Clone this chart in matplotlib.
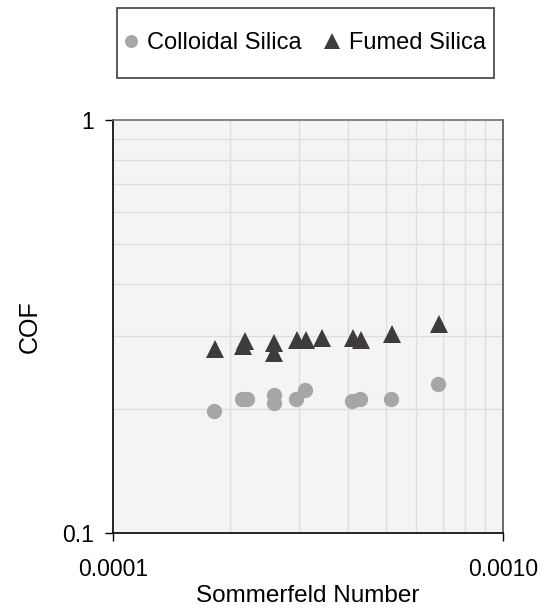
import numpy as np
import matplotlib.pyplot as plt
from matplotlib.patches import Rectangle
from matplotlib.ticker import FixedLocator, NullFormatter

plt.rcParams['font.family'] = ['Liberation Sans', 'DejaVu Sans']

# =====================================================
# Data
# =====================================================

colloidal_S = [1.82e-4, 2.14e-4, 2.20e-4, 2.58e-4, 2.58e-4, 2.94e-4,
               3.10e-4, 4.10e-4, 4.30e-4, 5.16e-4, 6.83e-4]
colloidal_cof = [0.197, 0.211, 0.211, 0.216, 0.206, 0.211,
                 0.222, 0.209, 0.211, 0.211, 0.230]

fumed_S = [1.83e-4, 2.16e-4, 2.18e-4, 2.59e-4, 2.59e-4, 2.96e-4,
           3.13e-4, 3.44e-4, 4.12e-4, 4.32e-4, 5.18e-4, 6.87e-4]
fumed_cof = [0.279, 0.283, 0.292, 0.289, 0.273, 0.293,
             0.293, 0.296, 0.296, 0.293, 0.304, 0.321]

# =====================================================
# Figure
# =====================================================

fig = plt.figure(figsize=(5.56, 6.10), dpi=100)
ax = fig.add_axes([0.2032, 0.1262, 0.7015, 0.6771])
ax.set_facecolor('#f4f4f4')

ax.plot(colloidal_S, colloidal_cof, 'o', color='#a6a6a6',
        markersize=11, markeredgewidth=0, label='Colloidal Silica', zorder=3)
ax.plot(fumed_S, fumed_cof, '^', color='#3f3b3b',
        markersize=13, markeredgewidth=0, label='Fumed Silica', zorder=3)

ax.set_xscale('log')
ax.set_yscale('log')
ax.set_xlim(1e-4, 1e-3)
ax.set_ylim(0.1, 1)

ax.xaxis.set_major_locator(FixedLocator([1e-4, 1e-3]))
ax.yaxis.set_major_locator(FixedLocator([0.1, 1]))
ax.set_xticklabels(['0.0001', '0.0010'])
ax.set_yticklabels(['0.1', '1'])
ax.xaxis.set_minor_locator(FixedLocator(np.arange(2, 10) * 1e-4))
ax.yaxis.set_minor_locator(FixedLocator(np.arange(2, 10) * 0.1))
ax.xaxis.set_minor_formatter(NullFormatter())
ax.yaxis.set_minor_formatter(NullFormatter())

ax.grid(which='minor', color='#dedede', linewidth=1.0, zorder=0)
ax.set_axisbelow(True)

ax.tick_params(which='major', direction='out', length=6, width=1,
               labelsize=16.5, colors='black')
ax.tick_params(axis='x', which='major', pad=12)
ax.tick_params(axis='y', which='major', pad=8)
ax.tick_params(which='minor', length=0)

ax.spines['left'].set_color('black')
ax.spines['bottom'].set_color('black')
ax.spines['top'].set_color('#707070')
ax.spines['right'].set_color('#505050')
for s in ax.spines.values():
    s.set_linewidth(1.2)

ax.set_xlabel('Sommerfeld Number', fontsize=17.5, labelpad=3)
ax.set_ylabel('COF', fontsize=18, labelpad=14)

leg = fig.legend(
    loc='center',
    bbox_to_anchor=(0.548, 0.929),
    ncol=2,
    fontsize=17,
    frameon=False,
    handlelength=0.6,
    handletextpad=0.4,
    columnspacing=1.0,
    markerscale=0.85
)

# legend box
fig.patches.append(Rectangle(
    (117/556, 1-78/610), 377/556, 70/610,
    transform=fig.transFigure,
    fill=False,
    edgecolor='#404040',
    linewidth=1.2
))

plt.savefig('out.png', dpi=100)
plt.close()
